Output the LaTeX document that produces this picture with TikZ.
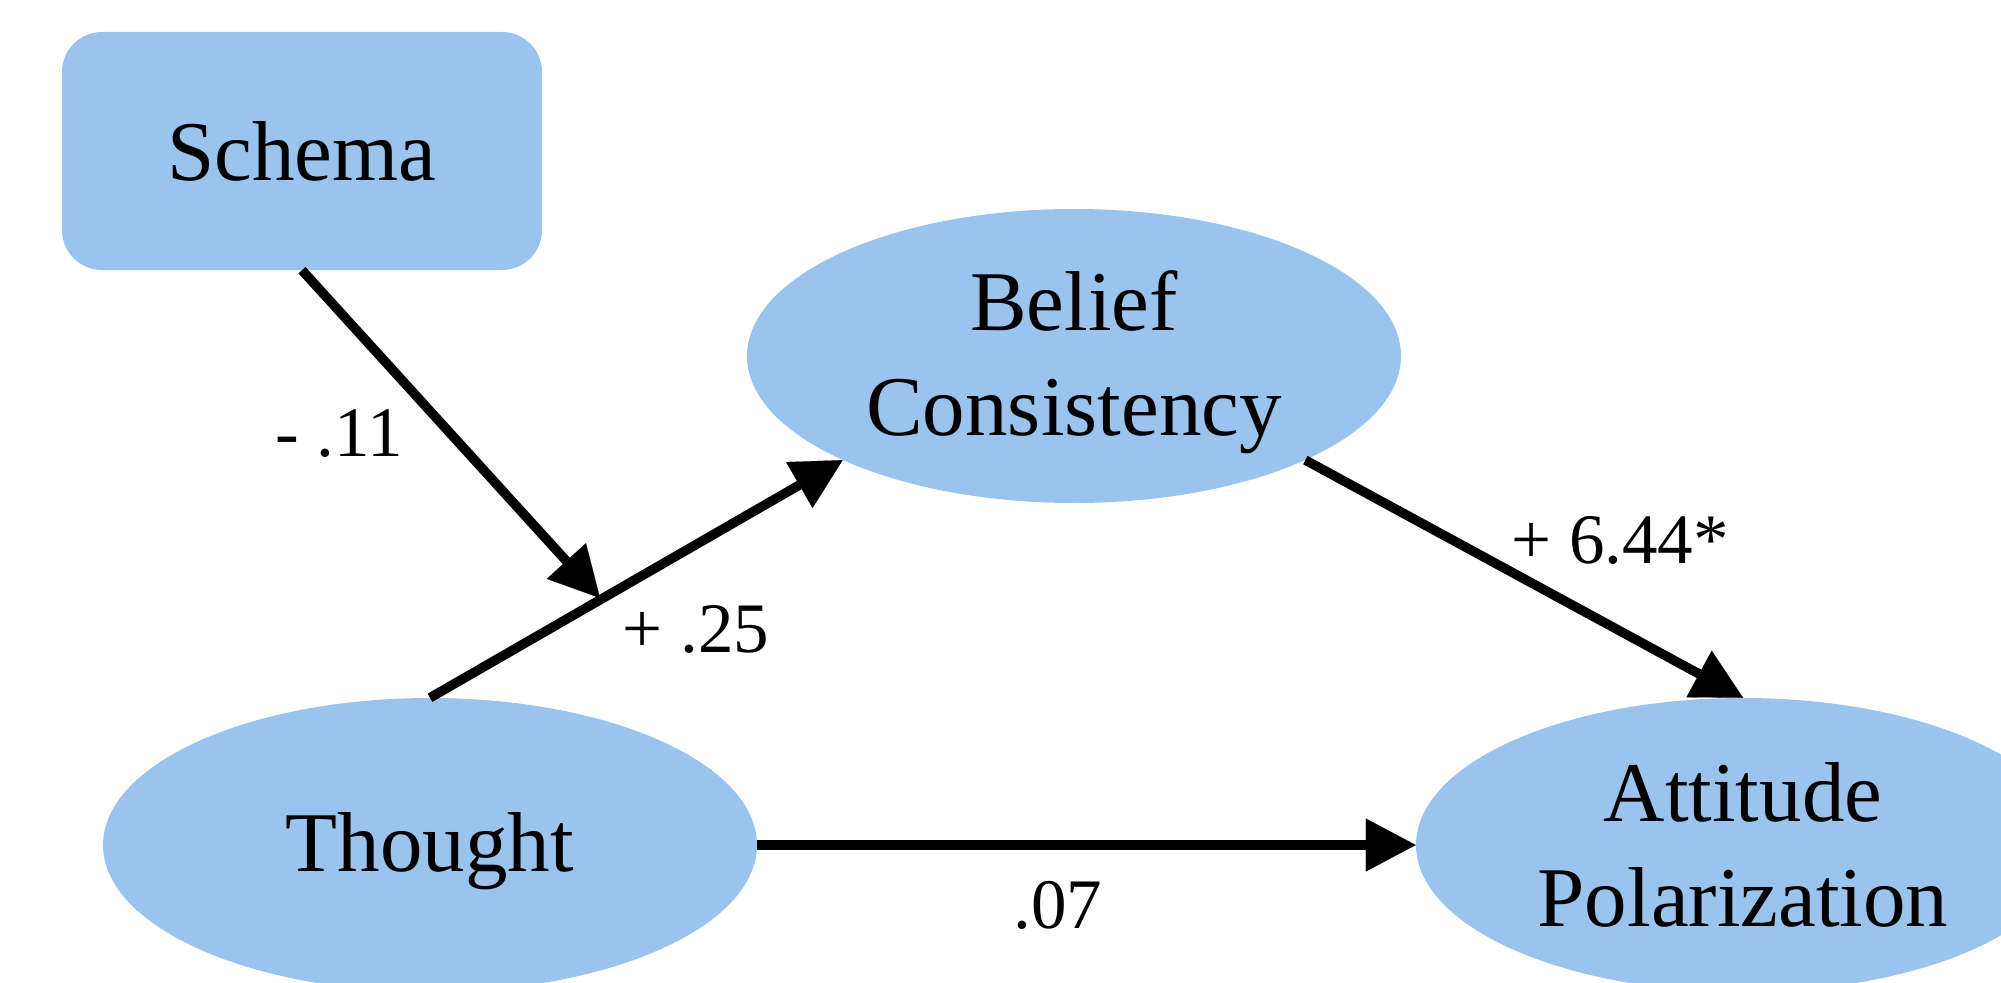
\documentclass[tikz,border=0pt]{standalone}
\usepackage{fontspec}
\setmainfont{Liberation Serif}
\usetikzlibrary{shapes.geometric,arrows.meta}
\definecolor{nodeblue}{RGB}{154,196,237}
\tikzset{
  nodetext/.style={font=\fontsize{85}{105}\selectfont, align=center, text=black},
  ell/.style={nodetext, ellipse, fill=nodeblue, draw=none, minimum width=654pt, minimum height=294pt, inner sep=0pt},
  boxnode/.style={nodetext, rectangle, rounded corners=40pt, fill=nodeblue, draw=none, minimum width=480pt, minimum height=238pt, inner sep=0pt},
  conn/.style={line width=9.5pt, -{Triangle[length=50pt,width=53pt,line width=0.1pt]}},
  lbl/.style={font=\fontsize{71}{84}\selectfont, inner sep=0pt}
}
\begin{document}
\begin{tikzpicture}[x=1pt,y=-1pt]
\useasboundingbox (0,0) rectangle (2001,982);
\clip (0,0) rectangle (2001,982);
\node[boxnode] (S) at (302,151) {Schema};
\node[ell] (B) at (1074,356) {\rule{0pt}{72pt}Belief\\Consistency};
\node[ell] (T) at (430,845) {\rule{0pt}{72pt}Thought};
\node[ell] (A) at (1743,845) {Attitude\\Polarization};
\coordinate (M) at (600,598);
\draw[conn] (T.north) -- (B.south west);
\draw[conn] (S.south) -- (M);
\draw[conn] (B.south east) -- (A.north);
\draw[conn] (T.east) -- (A.west);
\node[lbl] (l1) at (339,434) {- .11};
\node[lbl] (l2) at (696,629) {+ .25};
\node[lbl] (l3) at (1620,540) {+ 6.44*};
\node[lbl] (l4) at (1058,905) {.07};
\end{tikzpicture}
\end{document}
